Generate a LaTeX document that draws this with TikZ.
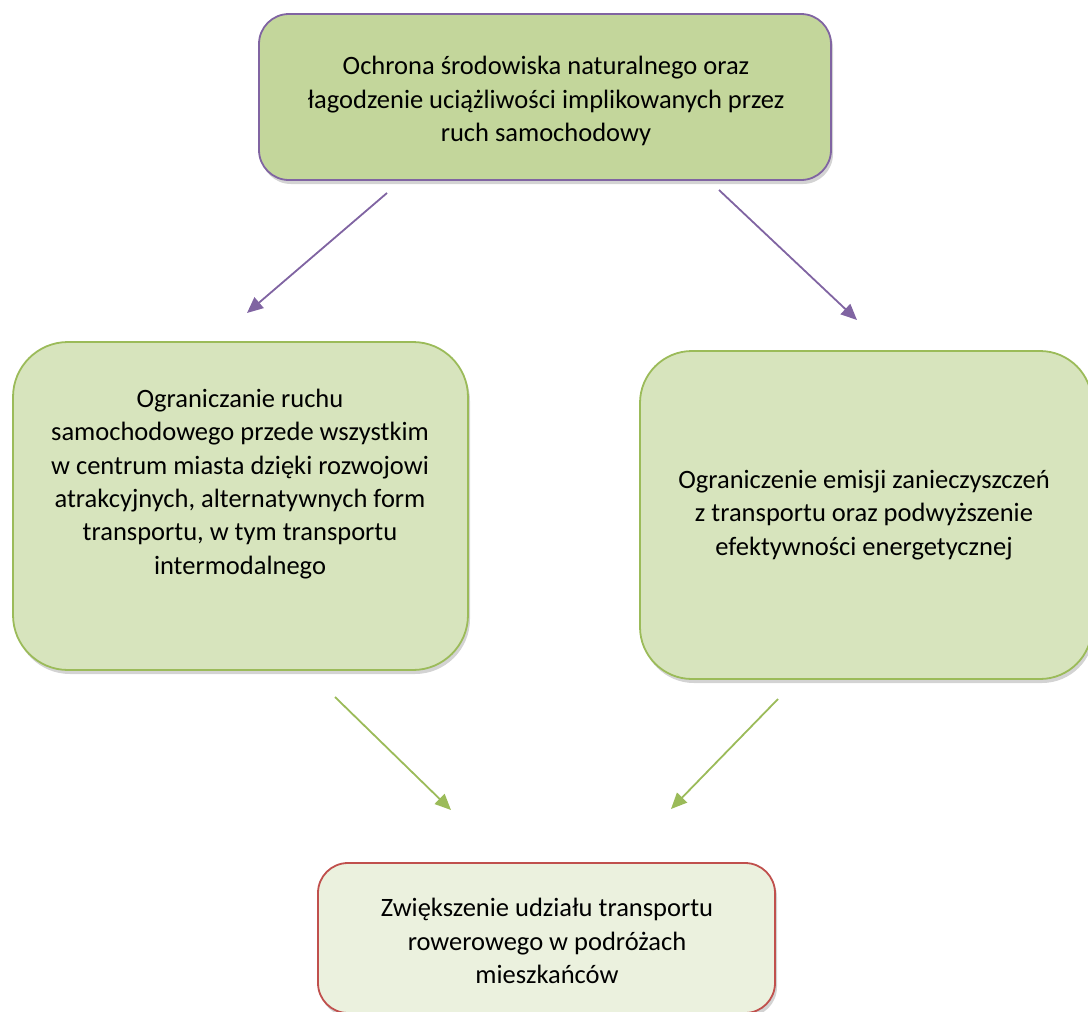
\documentclass[tikz,border=0pt]{standalone}
\usepackage{fontspec}
\setmainfont{Carlito}
\usetikzlibrary{arrows.meta,shadows,positioning}
\definecolor{purp}{HTML}{8064A2}
\definecolor{grn}{HTML}{9BBB59}
\definecolor{topfill}{HTML}{C3D69B}
\definecolor{midfill}{HTML}{D7E4BD}
\definecolor{botfill}{HTML}{EBF1DE}
\definecolor{redb}{HTML}{C0504D}
\tikzset{
  box/.style={draw, line width=1.8pt, rectangle, inner sep=0pt,
    drop shadow={opacity=0.35, shadow xshift=2pt, shadow yshift=-4pt}},
  lbl/.style={align=center, font=\fontsize{26.5}{33.3}\selectfont, inner sep=0pt},
  arr/.style={line width=1.8pt, -{Triangle[length=16pt,width=14pt]}},
}
\begin{document}
\begin{tikzpicture}[x=1pt,y=-1pt]
\useasboundingbox (0,0) rectangle (1088,1012);
\begin{scope}
\clip (0,0) rectangle (1088,1012);
% boxes
\node[box, draw=purp, fill=topfill, rounded corners=30pt,
  minimum width=572pt, minimum height=166pt] (top) at (545,97) {};
\node[box, draw=grn, fill=midfill, rounded corners=55pt,
  minimum width=455pt, minimum height=328pt] (left) at (240.5,506) {};
\node[box, draw=grn, fill=midfill, rounded corners=52pt,
  minimum width=452pt, minimum height=328pt] (right) at (866,515) {};
\node[box, draw=redb, fill=botfill, rounded corners=30pt,
  minimum width=457pt, minimum height=150pt] (bottom) at (546.5,938) {};
% labels
\node[lbl] (toptext) at (546,101) {Ochrona środowiska naturalnego oraz\\łagodzenie uciążliwości implikowanych przez\\ruch samochodowy};
\node[lbl] (lefttext) at (240,484) {Ograniczanie ruchu\\samochodowego przede wszystkim\\w centrum miasta dzięki rozwojowi\\atrakcyjnych, alternatywnych form\\transportu, w tym transportu\\intermodalnego};
\node[lbl] (righttext) at (864,515) {Ograniczenie emisji zanieczyszczeń\\z transportu oraz podwyższenie\\efektywności energetycznej};
\node[lbl] (bottomtext) at (547,941) {Zwiększenie udziału transportu\\rowerowego w podróżach\\mieszkańców};
\end{scope}
% arrow ends
\coordinate (a1s) at (387,193);
\coordinate (a1e) at (247,313);
\coordinate (a2s) at (719,190);
\coordinate (a2e) at (857,320);
\coordinate (a3s) at (335,697);
\coordinate (a3e) at (451,810);
\coordinate (a4s) at (778,699);
\coordinate (a4e) at (671,809);
\draw[arr, draw=purp, fill=purp] (a1s) -- (a1e);
\draw[arr, draw=purp, fill=purp] (a2s) -- (a2e);
\draw[arr, draw=grn, fill=grn] (a3s) -- (a3e);
\draw[arr, draw=grn, fill=grn] (a4s) -- (a4e);
\end{tikzpicture}
\end{document}
